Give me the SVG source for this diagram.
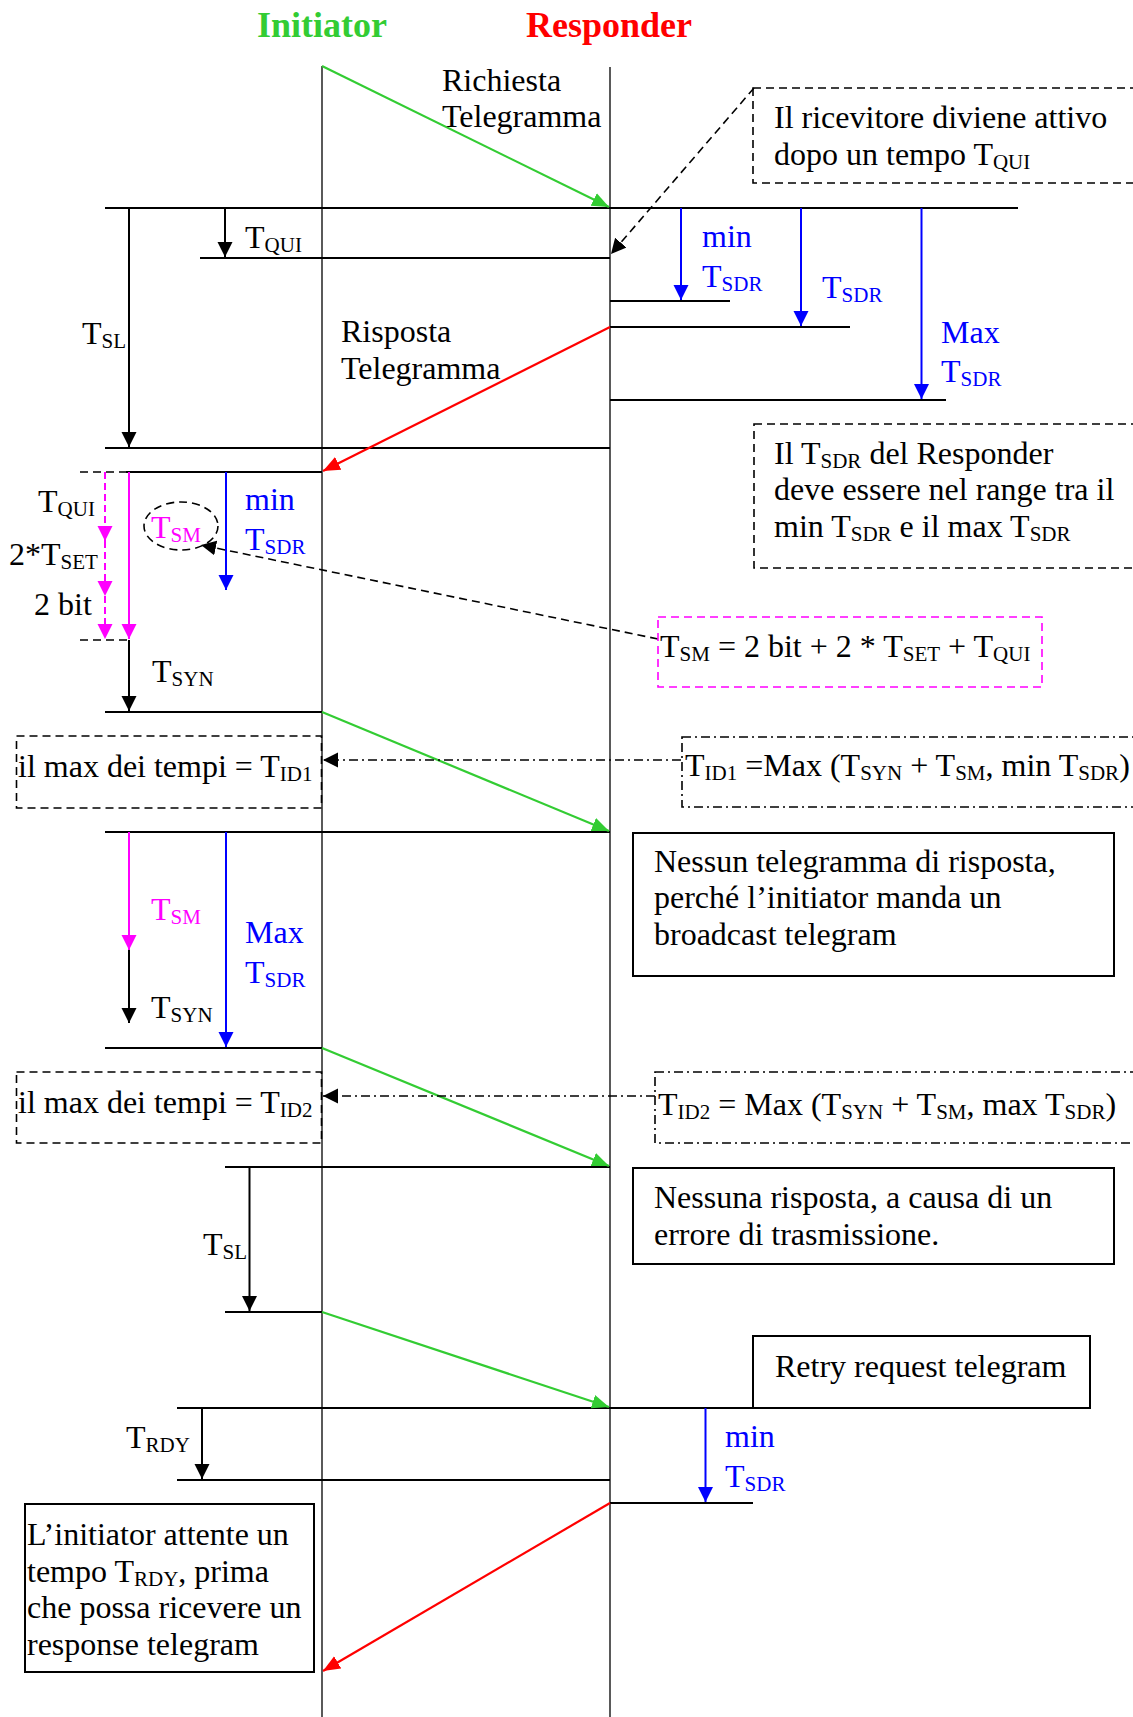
<svg xmlns="http://www.w3.org/2000/svg" width="1133" height="1717" viewBox="0 0 1133 1717">
<style>
text{font-family:"Liberation Serif","Times New Roman",serif;font-size:32px;fill:#000}
.title{font-weight:bold;font-size:36px;text-anchor:middle}
.sub{font-size:21px}
.blue{fill:#0000ff}
.mag{fill:#ff00ff}
.ln{stroke:#000;stroke-width:2;fill:none}
.life{stroke:#000;stroke-width:1.3;fill:none}
.dash{stroke:#000;stroke-width:1.6;stroke-dasharray:8,5;fill:none}
.dd{stroke:#000;stroke-width:1.6;stroke-dasharray:9,4,2,4;fill:none}
.solidbox{stroke:#000;stroke-width:2;fill:none}
.g{stroke:#33cc33;stroke-width:2.2;fill:none}
.r{stroke:#ff0000;stroke-width:2.2;fill:none}
.b{stroke:#0000ff;stroke-width:2;fill:none}
.m{stroke:#ff00ff;stroke-width:2;fill:none}
.md{stroke:#ff00ff;stroke-width:2;stroke-dasharray:7,4;fill:none}
</style>
<defs>
<marker id="ak" markerUnits="userSpaceOnUse" markerWidth="16" markerHeight="16" viewBox="0 0 16 16" refX="15" refY="8" orient="auto"><path d="M0,0.5 L15,8 L0,15.5 z" fill="#000"/></marker>
<marker id="ag" markerUnits="userSpaceOnUse" markerWidth="18" markerHeight="16" viewBox="0 0 18 16" refX="17" refY="8" orient="auto"><path d="M0,1 L17,8 L0,15 z" fill="#33cc33"/></marker>
<marker id="ar" markerUnits="userSpaceOnUse" markerWidth="18" markerHeight="16" viewBox="0 0 18 16" refX="17" refY="8" orient="auto"><path d="M0,1 L17,8 L0,15 z" fill="#ff0000"/></marker>
<marker id="ab" markerUnits="userSpaceOnUse" markerWidth="16" markerHeight="16" viewBox="0 0 16 16" refX="15" refY="8" orient="auto"><path d="M0,0.5 L15,8 L0,15.5 z" fill="#0000ff"/></marker>
<marker id="am" markerUnits="userSpaceOnUse" markerWidth="16" markerHeight="16" viewBox="0 0 16 16" refX="15" refY="8" orient="auto"><path d="M0,0.5 L15,8 L0,15.5 z" fill="#ff00ff"/></marker>
</defs>
<rect width="1133" height="1717" fill="#fff"/>

<g id="initiator">
<text class="title" x="322" y="37" fill="#33cc33" style="fill:#33cc33">Initiator</text>
<line class="life" x1="322" y1="66" x2="322" y2="1717"/>
</g>
<g id="responder">
<text class="title" x="609" y="37" style="fill:#ff0000">Responder</text>
<line class="life" x1="610" y1="67" x2="610" y2="1717"/>
</g>

<g id="timelines">
<line class="ln" x1="105" y1="208" x2="1018" y2="208"/>
<line class="ln" x1="200" y1="258" x2="610" y2="258"/>
<line class="ln" x1="610" y1="301" x2="730" y2="301"/>
<line class="ln" x1="610" y1="327" x2="850" y2="327"/>
<line class="ln" x1="610" y1="400" x2="946" y2="400"/>
<line class="ln" x1="105" y1="448" x2="610" y2="448"/>
<line class="dash" x1="80" y1="472" x2="126" y2="472"/>
<line class="ln" x1="126" y1="472" x2="322" y2="472"/>
<line class="dash" x1="80" y1="640" x2="129" y2="640"/>
<line class="ln" x1="105" y1="712" x2="322" y2="712"/>
<line class="ln" x1="105" y1="832" x2="610" y2="832"/>
<line class="ln" x1="105" y1="1048" x2="322" y2="1048"/>
<line class="ln" x1="225" y1="1167" x2="610" y2="1167"/>
<line class="ln" x1="225" y1="1312" x2="322" y2="1312"/>
<line class="ln" x1="177" y1="1408" x2="753" y2="1408"/>
<line class="ln" x1="177" y1="1480" x2="610" y2="1480"/>
<line class="ln" x1="610" y1="1503" x2="753" y2="1503"/>
</g>

<g id="connectors">
<line class="g" x1="322" y1="66" x2="609" y2="207" marker-end="url(#ag)"/>
<line class="r" x1="610" y1="327" x2="323" y2="471" marker-end="url(#ar)"/>
<line class="g" x1="322" y1="712" x2="609" y2="831" marker-end="url(#ag)"/>
<line class="g" x1="322" y1="1048" x2="609" y2="1166" marker-end="url(#ag)"/>
<line class="g" x1="322" y1="1312" x2="609" y2="1407" marker-end="url(#ag)"/>
<line class="r" x1="610" y1="1503" x2="323" y2="1671" marker-end="url(#ar)"/>
<line class="dash" x1="754" y1="88" x2="611" y2="254" marker-end="url(#ak)"/>
<line class="dash" x1="658" y1="639" x2="201" y2="545" marker-end="url(#ak)"/>
<line class="dd" x1="681" y1="760" x2="323" y2="760" marker-end="url(#ak)"/>
<line class="dd" x1="655" y1="1096" x2="323" y2="1096" marker-end="url(#ak)"/>

<line class="ln" x1="129" y1="208" x2="129" y2="447" marker-end="url(#ak)"/>
<line class="ln" x1="225" y1="208" x2="225" y2="257" marker-end="url(#ak)"/>
<line class="b" x1="681" y1="208" x2="681" y2="300" marker-end="url(#ab)"/>
<line class="b" x1="801" y1="208" x2="801" y2="326" marker-end="url(#ab)"/>
<line class="b" x1="921.5" y1="208" x2="921.5" y2="399" marker-end="url(#ab)"/>
<line class="md" x1="105" y1="472" x2="105" y2="541" marker-end="url(#am)"/>
<line class="md" x1="105" y1="541" x2="105" y2="596" marker-end="url(#am)"/>
<line class="md" x1="105" y1="596" x2="105" y2="639" marker-end="url(#am)"/>
<line class="m" x1="129" y1="472" x2="129" y2="639" marker-end="url(#am)"/>
<line class="ln" x1="129" y1="640" x2="129" y2="711" marker-end="url(#ak)"/>
<line class="b" x1="226" y1="472" x2="226" y2="590" marker-end="url(#ab)"/>
<line class="m" x1="129" y1="832" x2="129" y2="950" marker-end="url(#am)"/>
<line class="ln" x1="129" y1="950" x2="129" y2="1023" marker-end="url(#ak)"/>
<line class="b" x1="226" y1="832" x2="226" y2="1047" marker-end="url(#ab)"/>
<line class="ln" x1="249.5" y1="1167" x2="249.5" y2="1311" marker-end="url(#ak)"/>
<line class="ln" x1="202" y1="1408" x2="202" y2="1479" marker-end="url(#ak)"/>
<line class="b" x1="705.5" y1="1408" x2="705.5" y2="1502" marker-end="url(#ab)"/>
</g>

<g id="labels">
<text x="442" y="91">Richiesta</text>
<text x="442" y="127">Telegramma</text>
<text x="341" y="342">Risposta</text>
<text x="341" y="379">Telegramma</text>
<text x="245" y="248">T<tspan class="sub" dy="4">QUI</tspan></text>
<text x="82" y="344">T<tspan class="sub" dy="4">SL</tspan></text>
<text class="blue" x="702" y="247">min</text>
<text class="blue" x="702" y="287">T<tspan class="sub" dy="4">SDR</tspan></text>
<text class="blue" x="822" y="298">T<tspan class="sub" dy="4">SDR</tspan></text>
<text class="blue" x="941" y="343">Max</text>
<text class="blue" x="941" y="382">T<tspan class="sub" dy="4">SDR</tspan></text>
<text x="38" y="512">T<tspan class="sub" dy="4">QUI</tspan></text>
<text x="9" y="565">2*T<tspan class="sub" dy="4">SET</tspan></text>
<text x="34" y="615">2 bit</text>
<text class="mag" x="151" y="538">T<tspan class="sub" dy="4">SM</tspan></text>
<text class="blue" x="245" y="510">min</text>
<text class="blue" x="245" y="550">T<tspan class="sub" dy="4">SDR</tspan></text>
<text x="152" y="682">T<tspan class="sub" dy="4">SYN</tspan></text>
<text class="mag" x="151" y="920">T<tspan class="sub" dy="4">SM</tspan></text>
<text x="151" y="1018">T<tspan class="sub" dy="4">SYN</tspan></text>
<text class="blue" x="245" y="943">Max</text>
<text class="blue" x="245" y="983">T<tspan class="sub" dy="4">SDR</tspan></text>
<text x="203" y="1255">T<tspan class="sub" dy="4">SL</tspan></text>
<text x="126" y="1448">T<tspan class="sub" dy="4">RDY</tspan></text>
<text class="blue" x="725" y="1447">min</text>
<text class="blue" x="725" y="1487">T<tspan class="sub" dy="4">SDR</tspan></text>
<ellipse cx="181" cy="526" rx="37" ry="24" class="dash"/>
</g>

<g id="note-ricevitore">
<rect class="dash" x="753" y="88" width="390" height="95"/>
<text x="774" y="128">Il ricevitore diviene attivo</text>
<text x="774" y="165">dopo un tempo T<tspan class="sub" dy="4">QUI</tspan></text>
</g>

<g id="note-range">
<rect class="dash" x="754" y="424" width="390" height="144"/>
<text x="774" y="464">Il T<tspan class="sub" dy="4">SDR</tspan><tspan dy="-4"> del Responder</tspan></text>
<text x="774" y="500">deve essere nel range tra il</text>
<text x="774" y="537">min T<tspan class="sub" dy="4">SDR</tspan><tspan dy="-4"> e il max T</tspan><tspan class="sub" dy="4">SDR</tspan></text>
</g>

<g id="note-tsm">
<rect x="658" y="617" width="384" height="70" fill="none" stroke="#ff00ff" stroke-width="1.6" stroke-dasharray="8,5"/>
<text x="660" y="657">T<tspan class="sub" dy="4">SM</tspan><tspan dy="-4"> = 2 bit + 2 * T</tspan><tspan class="sub" dy="4">SET</tspan><tspan dy="-4"> + T</tspan><tspan class="sub" dy="4">QUI</tspan></text>
</g>

<g id="note-tid1">
<rect class="dd" x="682" y="737" width="460" height="70"/>
<text x="685" y="776">T<tspan class="sub" dy="4">ID1</tspan><tspan dy="-4"> =Max (T</tspan><tspan class="sub" dy="4">SYN</tspan><tspan dy="-4"> + T</tspan><tspan class="sub" dy="4">SM</tspan><tspan dy="-4">, min T</tspan><tspan class="sub" dy="4">SDR</tspan><tspan dy="-4">)</tspan></text>
</g>

<g id="box-tid1">
<rect class="dash" x="16.5" y="736" width="305" height="72"/>
<text x="18" y="777">il max dei tempi = T<tspan class="sub" dy="4">ID1</tspan></text>
</g>

<g id="note-broadcast">
<rect class="solidbox" x="633" y="833" width="481" height="143"/>
<text x="654" y="872">Nessun telegramma di risposta,</text>
<text x="654" y="908">perché l’initiator manda un</text>
<text x="654" y="945">broadcast telegram</text>
</g>

<g id="box-tid2">
<rect class="dash" x="16.5" y="1072" width="305" height="71"/>
<text x="18" y="1113">il max dei tempi = T<tspan class="sub" dy="4">ID2</tspan></text>
</g>

<g id="note-tid2">
<rect class="dd" x="655" y="1072" width="487" height="71"/>
<text x="658" y="1115">T<tspan class="sub" dy="4">ID2</tspan><tspan dy="-4"> = Max (T</tspan><tspan class="sub" dy="4">SYN</tspan><tspan dy="-4"> + T</tspan><tspan class="sub" dy="4">SM</tspan><tspan dy="-4">, max T</tspan><tspan class="sub" dy="4">SDR</tspan><tspan dy="-4">)</tspan></text>
</g>

<g id="note-errore">
<rect class="solidbox" x="633" y="1168" width="481" height="96"/>
<text x="654" y="1208">Nessuna risposta, a causa di un</text>
<text x="654" y="1245">errore di trasmissione.</text>
</g>

<g id="note-retry">
<rect class="solidbox" x="753" y="1336" width="337" height="72"/>
<text x="775" y="1377">Retry request telegram</text>
</g>

<g id="note-trdy">
<rect class="solidbox" x="25" y="1504" width="289" height="168"/>
<text x="27" y="1545">L’initiator attente un</text>
<text x="27" y="1582">tempo T<tspan class="sub" dy="4">RDY</tspan><tspan dy="-4">, prima</tspan></text>
<text x="27" y="1618">che possa ricevere un</text>
<text x="27" y="1655">response telegram</text>
</g>
</svg>
